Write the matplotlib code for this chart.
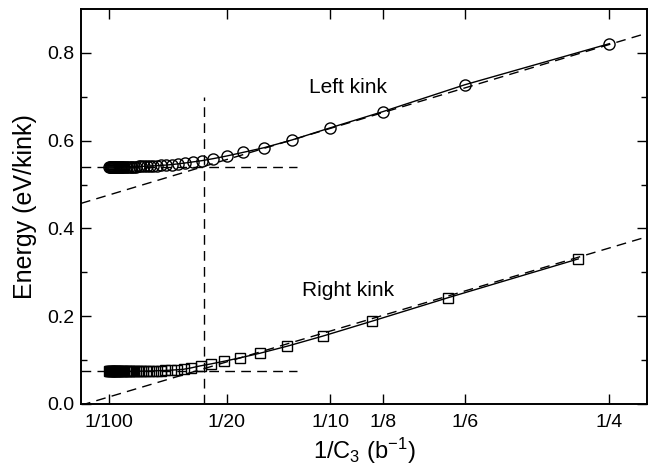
import numpy as np
import matplotlib
matplotlib.use("Agg")
import matplotlib.pyplot as plt

plt.rcParams['font.family'] = ['Liberation Sans', 'DejaVu Sans']
plt.rcParams['mathtext.fontset'] = 'custom'
plt.rcParams['mathtext.rm'] = 'Liberation Sans'
plt.rcParams['mathtext.default'] = 'regular'

# ---- data ----
tick_labels = ["1/100", "1/20", "1/10", "1/8", "1/6", "1/4"]
tick_c3 = [100, 20, 10, 8, 6, 4]

left_c3 = [4, 6, 8, 10, 12.25, 14.67, 17.33, 20, 22, 24, 26, 28, 30, 32, 34, 36, 38, 40,
           42, 44, 46, 48, 50, 52, 54, 56, 58, 60, 62, 64, 66, 68, 70, 72, 74, 76, 78, 80,
           82, 84, 86, 88, 90, 92, 94, 96, 98, 100]
left_e = [0.821, 0.7275, 0.666, 0.629, 0.6016, 0.584, 0.573, 0.565, 0.559, 0.5545, 0.5515,
          0.549, 0.547, 0.5455, 0.5444, 0.5436, 0.543, 0.5425, 0.5421, 0.5418, 0.5415,
          0.5413, 0.5411, 0.5409, 0.5408, 0.5407, 0.5406, 0.5405, 0.5404, 0.5403, 0.5402,
          0.5402, 0.5401, 0.5401, 0.540, 0.540, 0.540, 0.540, 0.540, 0.540, 0.540, 0.540,
          0.540, 0.540, 0.540, 0.540, 0.540, 0.540]

right_c3 = [4.31, 6.32, 8.33, 10.37, 12.6, 15.1, 17.7, 20.33, 22.33, 24.33, 26.33, 28.33,
            30.33, 32.33, 34.33, 36.33, 38.33, 40.33, 42.33, 44.33, 46.33, 48.33, 50.33,
            52.33, 54.33, 56.33, 58.33, 60.33, 62.33, 64.33, 66.33, 68.33, 70.33, 72.33,
            74.33, 76.33, 78.33, 80.33, 82.33, 84.33, 86.33, 88.33, 90.33, 92.33, 94.33,
            96.33, 98.33, 100.33]
right_e = [0.3305, 0.2423, 0.1888, 0.1545, 0.1317, 0.1157, 0.1051, 0.0974, 0.0914, 0.0869,
           0.0823, 0.0790, 0.0778, 0.0770, 0.0764, 0.0760, 0.0756, 0.0753, 0.0751, 0.0749,
           0.0748, 0.0747, 0.0746, 0.0745, 0.0744, 0.0744, 0.0743, 0.0743, 0.0742, 0.0742,
           0.0742, 0.0741, 0.0741, 0.0741, 0.0741, 0.0740, 0.0740, 0.0740, 0.0740, 0.0740,
           0.0740, 0.0740, 0.0740, 0.0740, 0.0740, 0.0740, 0.0740, 0.0740]

# linear fits (dashed) : energy at the two ends of the x range
left_fit_e = [0.457, 0.845]
right_fit_e = [-0.003, 0.381]
left_plateau = 0.541
right_plateau = 0.074
plateau_end_x = 0.084
crossover_x = 0.0423
crossover_top = 0.70

# ---- axis scale: position along axis for the labelled ticks ----
scale_u = [0.0, 0.01, 0.05, 0.10, 0.125, 1/6, 0.25, 0.30]
scale_s = [-0.0019, 0.0500, 0.2574, 0.4399, 0.5330, 0.6784, 0.9334, 1.0864]

def fwd(u):
    return np.interp(u, scale_u, scale_s)

def inv(s):
    return np.interp(s, scale_s, scale_u)

xmin = float(inv(0.0))
xmax = float(inv(1.0))

fig = plt.figure(figsize=(6.53, 4.73), dpi=100)
ax = fig.add_axes([0.124, 0.146, 0.867, 0.835])
ax.set_xscale('function', functions=(fwd, inv))

lx = 1.0 / np.array(left_c3)
rx = 1.0 / np.array(right_c3)

dash = (0, (7, 4.5))
ax.plot([xmin, xmax], left_fit_e, color='k', lw=1.0, ls=dash)
ax.plot([xmin, xmax], right_fit_e, color='k', lw=1.0, ls=dash)
ax.plot([xmin, plateau_end_x], [left_plateau, left_plateau], color='k', lw=1.0, ls=dash)
ax.plot([xmin, plateau_end_x], [right_plateau, right_plateau], color='k', lw=1.0, ls=dash)
ax.plot([crossover_x, crossover_x], [0.0, crossover_top], color='k', lw=1.0, ls=dash)

ax.plot(lx, left_e, color='k', lw=1.0, marker='o', ms=8, mfc='none', mec='k', mew=1.0)
ax.plot(rx, right_e, color='k', lw=1.0, marker='s', ms=7, mfc='none', mec='k', mew=1.0)

ax.text(0.1085, 0.721, "Left kink", fontsize=15, ha='center', va='center')
ax.text(0.1085, 0.258, "Right kink", fontsize=15, ha='center', va='center')

ax.set_xlim(xmin, xmax)
ax.set_ylim(0.0, 0.9)
ax.set_xticks([1.0 / c for c in tick_c3])
ax.set_xticklabels(tick_labels)
ax.xaxis.set_minor_locator(matplotlib.ticker.NullLocator())
ax.set_yticks([0.0, 0.2, 0.4, 0.6, 0.8])
ax.set_yticklabels(["0.0", "0.2", "0.4", "0.6", "0.8"])
ax.set_yticks([0.1, 0.3, 0.5, 0.7], minor=True)

ax.tick_params(which='both', direction='in', top=True, right=True, width=1.0,
               labelsize=14, colors='k')
ax.tick_params(which='major', length=7)
ax.tick_params(which='minor', length=4.5)
ax.tick_params(axis='x', pad=7)
ax.tick_params(axis='y', pad=5)
for sp in ax.spines.values():
    sp.set_linewidth(1.4)

ax.set_xlabel("1/C$_3$ (b$^{-1}$)", fontsize=17, labelpad=4)
ax.set_ylabel("Energy (eV/kink)", fontsize=18, labelpad=7)

fig.savefig("out.png", dpi=100)
